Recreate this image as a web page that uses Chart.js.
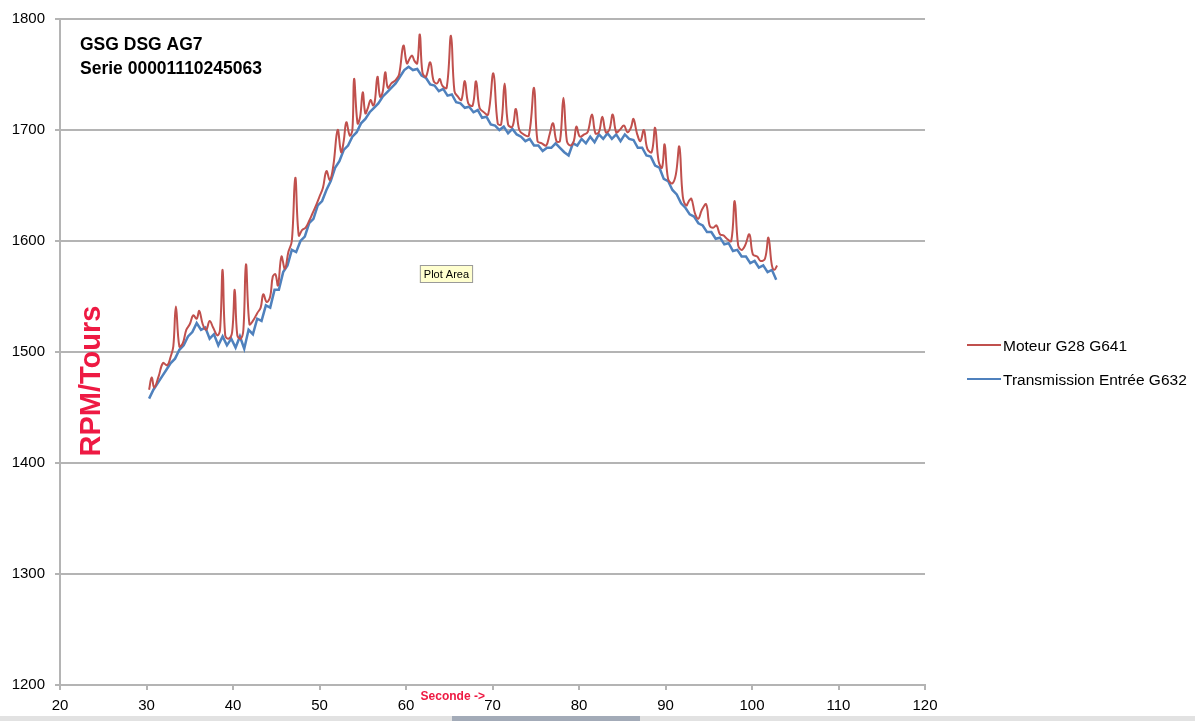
<!DOCTYPE html>
<html>
<head>
<meta charset="utf-8">
<script src="https://cdn.jsdelivr.net/npm/chart.js@4.4.1/dist/chart.umd.min.js"></script>
<style>
  html, body { margin: 0; padding: 0; background: #ffffff; }
  #wrap { position: relative; width: 1195px; height: 721px; }
  canvas { display: block; }
</style>
</head>
<body>
<div id="wrap"><canvas id="c" width="1195" height="721"></canvas></div>
<script>
// ---------- DATA ----------
const titleLines = ["GSG DSG AG7", "Serie 00001110245063"];
const yAxisTitle = "RPM/Tours";
const xAxisTitle = "Seconde ->";
const seriesNames = ["Moteur G28 G641", "Transmission Entrée G632"];
const xTickValues = [20, 30, 40, 50, 60, 70, 80, 90, 100, 110, 120];
const yTickValues = [1200, 1300, 1400, 1500, 1600, 1700, 1800];

// Moteur G28 G641 (engine) – time in seconds
const moteurTime = [
  30.3,30.6,30.9,31.4,31.9,32.4,32.8,33.1,33.4,33.8,
  34.2,34.6,35.0,35.4,35.8,36.1,36.5,36.9,37.3,37.7,
  38.2,38.5,38.8,39.1,39.5,39.9,40.2,40.5,40.9,41.2,
  41.5,41.9,42.3,42.8,43.2,43.5,43.9,44.3,44.6,44.9,
  45.2,45.6,46.0,46.4,46.8,47.2,47.6,48.0,48.4,48.8,
  49.2,49.6,50.0,50.4,50.8,51.2,51.6,52.1,52.5,52.8,
  53.1,53.5,53.8,54.0,54.4,54.7,55.0,55.3,55.6,55.9,
  56.2,56.4,56.7,57.0,57.3,57.6,57.9,58.3,58.8,59.2,
  59.7,60.1,60.4,60.7,61.0,61.3,61.6,61.9,62.3,62.8,
  63.2,63.6,63.9,64.2,64.7,65.2,65.6,66.0,66.4,66.8,
  67.2,67.7,68.1,68.5,69.0,69.5,70.1,70.6,71.0,71.4,
  71.8,72.3,72.7,73.1,73.6,74.2,74.8,75.2,75.7,76.2,
  76.6,77.0,77.4,77.8,78.2,78.6,79.0,79.4,79.7,80.1,
  80.6,81.0,81.5,81.9,82.3,82.7,83.1,83.5,83.9,84.3,
  84.7,85.2,85.6,86.0,86.3,86.7,87.1,87.5,87.9,88.4,
  88.8,89.2,89.6,89.9,90.3,90.8,91.2,91.6,92.0,92.4,
  92.7,93.0,93.4,93.8,94.2,94.7,95.1,95.5,95.9,96.3,
  96.7,97.1,97.6,98.0,98.4,98.8,99.2,99.7,100.1,100.6,
  101.0,101.5,101.9,102.3,102.6,102.9
];
const moteurRpm = [
  1466,1477,1468,1478,1490,1488,1496,1505,1541,1505,
  1508,1520,1525,1533,1530,1537,1525,1520,1528,1522,
  1515,1520,1574,1515,1512,1518,1556,1515,1512,1520,
  1579,1525,1528,1535,1540,1552,1545,1550,1568,1570,
  1560,1586,1575,1590,1600,1657,1605,1610,1612,1618,
  1625,1632,1640,1648,1663,1655,1668,1700,1680,1690,
  1707,1695,1700,1746,1706,1712,1734,1715,1720,1727,
  1722,1726,1748,1730,1734,1752,1738,1742,1745,1750,
  1776,1760,1764,1767,1762,1760,1786,1752,1748,1761,
  1744,1742,1746,1740,1738,1785,1735,1730,1727,1744,
  1724,1722,1744,1720,1716,1714,1751,1706,1705,1742,
  1705,1703,1719,1700,1696,1695,1738,1690,1688,1686,
  1696,1706,1690,1690,1729,1690,1686,1690,1703,1694,
  1696,1698,1714,1697,1698,1712,1698,1700,1714,1698,
  1700,1704,1698,1702,1710,1697,1690,1700,1683,1680,
  1702,1672,1666,1687,1656,1652,1660,1685,1640,1632,
  1636,1638,1625,1620,1628,1633,1614,1612,1614,1606,
  1605,1602,1600,1636,1596,1592,1596,1606,1588,1586,
  1582,1584,1603,1578,1574,1578
];

// Transmission Entrée G632 (gearbox input) – time in seconds
const transTime = [
  30.3,30.8,31.3,31.8,32.3,32.8,33.3,33.8,34.3,34.8,
  35.3,35.8,36.3,36.8,37.3,37.8,38.3,38.8,39.3,39.8,
  40.3,40.8,41.3,41.8,42.3,42.8,43.3,43.8,44.3,44.8,
  45.3,45.8,46.3,46.8,47.3,47.8,48.3,48.8,49.3,49.8,
  50.3,50.8,51.3,51.8,52.3,52.8,53.3,53.8,54.3,54.8,
  55.3,55.8,56.3,56.8,57.3,57.8,58.3,58.8,59.3,59.8,
  60.3,60.8,61.3,61.8,62.3,62.8,63.3,63.8,64.3,64.8,
  65.3,65.8,66.3,66.8,67.3,67.8,68.3,68.8,69.3,69.8,
  70.3,70.8,71.3,71.8,72.3,72.8,73.3,73.8,74.3,74.8,
  75.3,75.8,76.3,76.8,77.3,77.8,78.3,78.8,79.3,79.8,
  80.3,80.8,81.3,81.8,82.3,82.8,83.3,83.8,84.3,84.8,
  85.3,85.8,86.3,86.8,87.3,87.8,88.3,88.8,89.3,89.8,
  90.3,90.8,91.3,91.8,92.3,92.8,93.3,93.8,94.3,94.8,
  95.3,95.8,96.3,96.8,97.3,97.8,98.3,98.8,99.3,99.8,
  100.3,100.8,101.3,101.8,102.3,102.8
];
const transRpm = [
  1458,1466,1472,1478,1484,1490,1494,1502,1506,1514,
  1518,1526,1520,1522,1512,1516,1506,1514,1506,1512,
  1504,1514,1503,1520,1516,1530,1528,1542,1540,1556,
  1556,1572,1578,1592,1590,1600,1604,1616,1620,1632,
  1636,1646,1654,1666,1672,1682,1686,1694,1698,1706,
  1710,1716,1720,1724,1730,1734,1738,1742,1748,1754,
  1757,1754,1755,1749,1747,1741,1740,1735,1737,1731,
  1732,1725,1724,1720,1721,1716,1718,1711,1712,1705,
  1704,1700,1703,1697,1701,1696,1694,1690,1692,1686,
  1686,1681,1684,1684,1688,1684,1680,1677,1688,1686,
  1692,1688,1694,1689,1696,1692,1697,1692,1696,1690,
  1696,1692,1691,1684,1684,1677,1676,1668,1666,1656,
  1654,1646,1642,1634,1630,1624,1622,1616,1614,1608,
  1608,1602,1603,1597,1598,1591,1592,1586,1586,1580,
  1582,1576,1578,1572,1574,1565
];

// ---------- CHART ----------
const FONT = '"Liberation Sans", Arial, Helvetica, sans-serif';
const RED = '#c0504d';
const BLUE = '#4f81bd';
const ACCENT = '#ee1a43';
const GRID = '#b4b4b4';

function toPoints(xs, ys) { return xs.map((x, i) => ({ x: x, y: ys[i] })); }

const decor = {
  id: 'decor',
  afterDraw(chart) {
    const ctx = chart.ctx;
    const area = chart.chartArea;
    const xs = chart.scales.x;
    ctx.save();
    // Title block
    ctx.fillStyle = '#000';
    ctx.textAlign = 'left';
    ctx.textBaseline = 'alphabetic';
    ctx.font = 'bold 17.5px ' + FONT;
    ctx.fillText(titleLines[0], area.left + 20, 50);
    ctx.fillText(titleLines[1], area.left + 20, 74);

    // Y axis title (rotated)
    ctx.save();
    ctx.translate(100, 381);
    ctx.rotate(-Math.PI / 2);
    ctx.fillStyle = ACCENT;
    ctx.font = 'bold 29px ' + FONT;
    ctx.textAlign = 'center';
    ctx.textBaseline = 'alphabetic';
    ctx.fillText(yAxisTitle, 0, 0);
    ctx.restore();

    // X axis title
    ctx.fillStyle = ACCENT;
    ctx.font = 'bold 12px ' + FONT;
    ctx.textAlign = 'center';
    ctx.textBaseline = 'middle';
    ctx.fillText(xAxisTitle, xs.getPixelForValue(65.4), 697);

    // "Plot Area" hover label
    const bx = xs.getPixelForValue(61.6), by = 265;
    ctx.font = '11px ' + FONT;
    const tw = ctx.measureText('Plot Area').width;
    ctx.fillStyle = '#ffffcf';
    ctx.fillRect(bx, by, tw + 8, 18);
    ctx.strokeStyle = '#9a9a9a';
    ctx.lineWidth = 1;
    ctx.strokeRect(bx + 0.5, by + 0.5, tw + 7, 17);
    ctx.fillStyle = '#000';
    ctx.textAlign = 'left';
    ctx.fillText('Plot Area', bx + 4, by + 9.5);

    // Legend
    const ds = chart.data.datasets;
    const legY = [345, 379];
    ctx.font = '15.5px ' + FONT;
    ctx.textBaseline = 'middle';
    ds.forEach((d, i) => {
      ctx.strokeStyle = d.borderColor;
      ctx.lineWidth = 2;
      ctx.beginPath();
      ctx.moveTo(967, legY[i]);
      ctx.lineTo(1001, legY[i]);
      ctx.stroke();
      ctx.fillStyle = '#000';
      ctx.fillText(d.label, 1003, legY[i] + 2);
    });

    // spreadsheet tab strip at the very bottom
    ctx.fillStyle = '#e2e2e2';
    ctx.fillRect(0, 716, 1195, 5);
    ctx.fillStyle = '#a3abb8';
    ctx.fillRect(452, 716, 188, 5);
    ctx.restore();
  }
};

new Chart(document.getElementById('c'), {
  type: 'line',
  data: {
    datasets: [
      {
        label: seriesNames[0],
        data: toPoints(moteurTime, moteurRpm),
        borderColor: RED,
        borderWidth: 2,
        pointRadius: 0,
        tension: 0.4,
        fill: false
      },
      {
        label: seriesNames[1],
        data: toPoints(transTime, transRpm),
        borderColor: BLUE,
        borderWidth: 2.5,
        pointRadius: 0,
        tension: 0,
        fill: false
      }
    ]
  },
  options: {
    responsive: false,
    animation: false,
    events: [],
    layout: { padding: { left: 0, top: 17, right: 270, bottom: 0 } },
    plugins: {
      legend: { display: false },
      tooltip: { enabled: false },
      title: { display: false }
    },
    scales: {
      x: {
        type: 'linear',
        min: 20,
        max: 120,
        afterFit(scale) { scale.height = 36; },
        afterBuildTicks(scale) { scale.ticks = xTickValues.map(v => ({ value: v })); },
        ticks: {
          color: '#000',
          font: { family: FONT, size: 15 },
          padding: 7,
          maxRotation: 0,
          autoSkip: false,
          callback: (v) => String(v)
        },
        grid: {
          drawOnChartArea: false,
          drawTicks: true,
          tickLength: 5,
          color: GRID,
          lineWidth: 2
        },
        border: { color: GRID, width: 2 }
      },
      y: {
        type: 'linear',
        min: 1200,
        max: 1800,
        afterFit(scale) { scale.width = 60; },
        afterBuildTicks(scale) { scale.ticks = yTickValues.map(v => ({ value: v })); },
        ticks: {
          color: '#000',
          font: { family: FONT, size: 15 },
          padding: 10,
          autoSkip: false,
          callback: (v) => String(v)
        },
        grid: {
          drawOnChartArea: true,
          drawTicks: true,
          tickLength: 5,
          color: GRID,
          lineWidth: 2
        },
        border: { color: GRID, width: 2 }
      }
    }
  },
  plugins: [decor]
});
</script>
</body>
</html>
